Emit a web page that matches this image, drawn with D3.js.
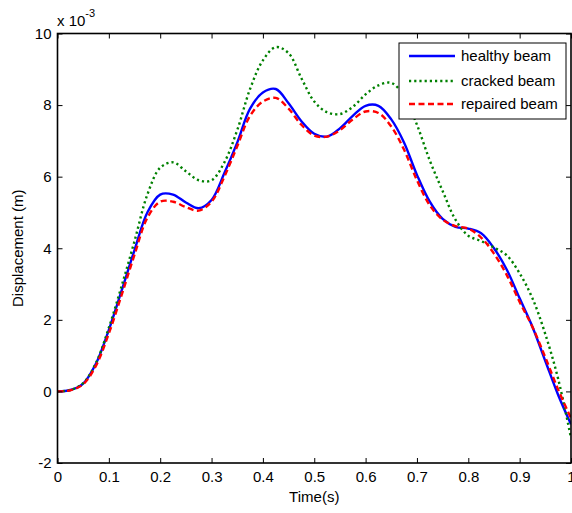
<!DOCTYPE html>
<html><head><meta charset="utf-8">
<script src="https://cdn.jsdelivr.net/npm/d3@7/dist/d3.min.js"></script>
<style>body{margin:0;background:#fff;}svg{display:block;font-family:Arial,"Liberation Sans",sans-serif;}</style>
</head><body>
<script>
const time = [0,0.025,0.05,0.075,0.1,0.125,0.15,0.175,0.2,0.225,0.25,0.275,0.3,0.325,0.35,0.375,0.4,0.425,0.45,0.475,0.5,0.525,0.55,0.575,0.6,0.625,0.65,0.675,0.7,0.725,0.75,0.775,0.8,0.825,0.85,0.875,0.9,0.925,0.95,0.975,1.0];
const healthy = [0,0.04,0.22,0.78,1.72,2.82,3.95,5.0,5.5,5.5,5.28,5.12,5.35,6.1,6.95,7.9,8.35,8.45,8.05,7.55,7.2,7.12,7.35,7.7,7.98,7.98,7.6,6.95,6.05,5.3,4.82,4.6,4.55,4.42,4.0,3.4,2.6,1.8,0.85,-0.1,-0.92];
const cracked = [0,0.04,0.23,0.8,1.78,2.95,4.2,5.5,6.25,6.4,6.15,5.9,5.9,6.4,7.3,8.45,9.25,9.62,9.45,8.75,8.1,7.8,7.75,7.95,8.3,8.55,8.62,8.25,7.45,6.45,5.6,4.8,4.35,4.2,4.02,3.8,3.3,2.6,1.6,0.35,-1.3];
const repaired = [0,0.03,0.2,0.72,1.62,2.7,3.82,4.85,5.3,5.3,5.15,5.05,5.3,6.0,6.85,7.7,8.1,8.2,7.9,7.45,7.15,7.12,7.3,7.6,7.82,7.78,7.4,6.75,5.9,5.2,4.8,4.62,4.55,4.3,3.85,3.25,2.5,1.8,0.95,0.05,-0.75];
const seriesNames = ["healthy beam","cracked beam","repaired beam"];
const xTicks = [0,0.1,0.2,0.3,0.4,0.5,0.6,0.7,0.8,0.9,1];
const xTickLabels = ["0","0.1","0.2","0.3","0.4","0.5","0.6","0.7","0.8","0.9","1"];
const yTicks = [-2,0,2,4,6,8,10];
const yTickLabels = ["-2","0","2","4","6","8","10"];

const W = 572, H = 513;
const m = {left:57.5, right:571, top:33.5, bottom:463};
const svg = d3.select("body").append("svg").attr("width",W).attr("height",H);
const x = d3.scaleLinear().domain([0,1]).range([m.left,m.right]);
const y = d3.scaleLinear().domain([-2,10]).range([m.bottom,m.top]);

svg.append("defs").append("clipPath").attr("id","clip").append("rect")
  .attr("x",m.left).attr("y",m.top).attr("width",m.right-m.left).attr("height",m.bottom-m.top);

const styles = [
  {data:healthy, color:"#0000ff", dash:null},
  {data:cracked, color:"#008000", dash:"2.2,3"},
  {data:repaired, color:"#ff0000", dash:"6,3.5"}
];
const line = d3.line().x((d,i)=>x(time[i])).y(d=>y(d)).curve(d3.curveCatmullRom.alpha(0.5));
const g = svg.append("g").attr("clip-path","url(#clip)");
styles.forEach(s=>{
  g.append("path").attr("d",line(s.data)).attr("fill","none").attr("stroke",s.color)
   .attr("stroke-width",2.4).attr("stroke-dasharray",s.dash);
});

// axes
const fs = "15px";
const ax = svg.append("g").attr("transform",`translate(0,${m.bottom})`)
  .call(d3.axisBottom(x).tickValues(xTicks).tickFormat((d,i)=>xTickLabels[i]).tickSizeInner(-5).tickSizeOuter(0).tickPadding(8));
const axTop = svg.append("g").attr("transform",`translate(0,${m.top})`)
  .call(d3.axisTop(x).tickValues(xTicks).tickFormat("").tickSizeInner(-5).tickSizeOuter(0));
const ay = svg.append("g").attr("transform",`translate(${m.left},0)`)
  .call(d3.axisLeft(y).tickValues(yTicks).tickFormat((d,i)=>yTickLabels[i]).tickSizeInner(-5).tickSizeOuter(0).tickPadding(6));
const ayR = svg.append("g").attr("transform",`translate(${m.right},0)`)
  .call(d3.axisRight(y).tickValues(yTicks).tickFormat("").tickSizeInner(-5).tickSizeOuter(0));
[ax,axTop,ay,ayR].forEach(a=>{
  a.select(".domain").remove();
  a.selectAll("line").attr("stroke","#000").attr("stroke-width",1);
  a.selectAll("text").attr("fill","#000").style("font-size",fs).style("font-family","Arial, 'Liberation Sans', sans-serif");
});
ax.selectAll("text").attr("dy","0.71em");
svg.append("rect").attr("x",m.left).attr("y",m.top).attr("width",m.right-m.left).attr("height",m.bottom-m.top)
  .attr("fill","none").attr("stroke","#000").attr("stroke-width",1.6);

// exponent label
const ex = svg.append("text").attr("x",57).attr("y",26).style("font-size",fs).attr("fill","#000");
ex.append("tspan").text("x 10");
ex.append("tspan").attr("dy",-9).style("font-size","11px").text("-3");

// axis titles
svg.append("text").attr("x",(m.left+m.right)/2).attr("y",502).attr("text-anchor","middle").style("font-size",fs).text("Time(s)");
svg.append("text").attr("transform",`translate(23,${(m.top+m.bottom)/2}) rotate(-90)`).attr("text-anchor","middle").style("font-size",fs).text("Displacement (m)");

// legend
const lg = svg.append("g");
lg.append("rect").attr("x",399).attr("y",43).attr("width",167).attr("height",76).attr("fill","#fff").attr("stroke","#000").attr("stroke-width",1);
const ly = [56,81,104];
styles.forEach((s,i)=>{
  lg.append("line").attr("x1",409).attr("x2",455).attr("y1",ly[i]).attr("y2",ly[i]).attr("stroke",s.color).attr("stroke-width",2.4).attr("stroke-dasharray",s.dash);
  lg.append("text").attr("x",461).attr("y",ly[i]).attr("dy","0.35em").style("font-size",fs).text(seriesNames[i]);
});
</script>
</body></html>
